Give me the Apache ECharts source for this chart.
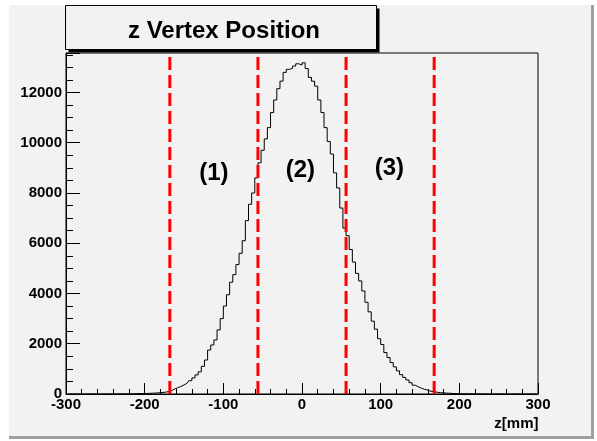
<!DOCTYPE html>
<html>
<head>
<meta charset="utf-8">
<script src="https://cdn.jsdelivr.net/npm/echarts@6/dist/echarts.min.js"></script>
<style>html,body{margin:0;padding:0;background:#fff}#c{width:597px;height:441px}</style>
</head>
<body>
<div id="c"></div>
<script>
// Histogram: z vertex position, 150 bins of 4 mm from -300 to 300
const xMin = -300;
const xMax = 300;
const binWidth = 4;
const counts = [
  0,0,0,0,0,0,0,0,0,0,
  0,0,0,0,0,1,2,3,4,6,
  8,10,12,14,17,20,25,30,38,48,
  58,72,92,130,195,250,300,360,430,530,
  640,760,880,1100,1350,1750,1950,2150,2550,3000,
  3500,3950,4450,4750,5150,5600,6100,6900,7550,8000,
  8600,9200,9700,10150,10600,11200,11700,12150,12450,12800,
  12920,12960,13050,13140,13090,13180,12950,12600,12450,12250,
  11700,11200,10600,10050,9550,8800,8200,7400,6600,6300,
  5750,5250,4800,4500,4100,3650,3270,2900,2580,2200,
  1970,1650,1450,1250,1080,920,770,660,560,450,
  350,285,230,185,150,110,90,70,55,45,
  36,28,20,16,13,10,8,7,5,4,
  3,2,1,0,0,0,0,0,0,0,
  0,0,0,0,0,0,0,0,0,0
];
const yMax = 13570;
const yMajorStep = 2000;
const yMinorStep = 500;
const xMajorStep = 100;
const cutPositions = [-168, -56, 56, 168];
const regionLabels = ['(1)', '(2)', '(3)'];
const regionX = [-112, -2, 111];
const regionY = [8770, 8900, 8980];
const titleText = 'z Vertex Position';
const xTitle = 'z[mm]';

const FONT = '"Liberation Sans", Arial, Helvetica, sans-serif';
const chart = echarts.init(document.getElementById('c'), null, {renderer: 'canvas'});

const histData = counts.map((c, i) => [xMin + binWidth * (i + 0.5), c]);

const series = [{
  type: 'line', step: 'middle', data: histData, symbol: 'none',
  lineStyle: {color: '#000', width: 1}, z: 3, animation: false
}];
cutPositions.forEach(v => {
  series.push({
    type: 'line', data: [[v, 0], [v, yMax]], symbol: 'none',
    lineStyle: {color: '#ff0000', width: 3, type: [13, 5]}, z: 4, animation: false
  });
});

const baseGraphic = [
  {type: 'rect', shape: {x: 0, y: 0, width: 9, height: 441}, style: {fill: '#fff'}, silent: true},
  {type: 'rect', shape: {x: 0, y: 0, width: 597, height: 5}, style: {fill: '#fff'}, silent: true},
  {type: 'rect', shape: {x: 594, y: 0, width: 3, height: 441}, style: {fill: '#fff'}, silent: true},
  {type: 'rect', shape: {x: 0, y: 439, width: 597, height: 2}, style: {fill: '#fff'}, silent: true},
  {type: 'rect', shape: {x: 591, y: 5, width: 3, height: 434}, style: {fill: '#a0a0a0'}, silent: true},
  {type: 'rect', shape: {x: 9, y: 436, width: 585, height: 3}, style: {fill: '#a0a0a0'}, silent: true},
  {type: 'rect', shape: {x: 68.5, y: 8.5, width: 311, height: 44}, style: {fill: '#000'}, z: 10, silent: true},
  {type: 'rect', shape: {x: 65.5, y: 5.5, width: 311, height: 44}, style: {fill: '#f2f2f2', stroke: '#000', lineWidth: 1}, z: 11, silent: true},
  {type: 'text', x: 224, y: 31, z: 12, silent: true,
    style: {text: titleText, font: 'bold 24px ' + FONT, fill: '#000', textAlign: 'center', textVerticalAlign: 'middle'}},
  {type: 'text', x: 538.5, y: 424, z: 12, silent: true,
    style: {text: xTitle, font: 'bold 15px ' + FONT, fill: '#000', textAlign: 'right', textVerticalAlign: 'middle'}}
];

chart.setOption({
  animation: false,
  backgroundColor: '#f2f2f2',
  grid: {left: 66, top: 53, width: 472, height: 341, show: true,
    borderColor: '#000', borderWidth: 1, backgroundColor: 'transparent'},
  xAxis: {
    type: 'value', min: xMin, max: xMax, interval: xMajorStep,
    axisLine: {show: true, onZero: false, lineStyle: {color: '#000', width: 1}},
    axisTick: {show: true, inside: true, length: 11, lineStyle: {color: '#000', width: 1}},
    minorTick: {show: true, splitNumber: 5, length: 5, lineStyle: {color: '#000', width: 1}},
    axisLabel: {fontSize: 15, fontWeight: 'bold', color: '#000', fontFamily: FONT, margin: 3},
    splitLine: {show: false}
  },
  yAxis: [{
    type: 'value', min: 0, max: yMax, interval: yMajorStep, position: 'left',
    axisLine: {show: true, onZero: false, lineStyle: {color: '#000', width: 1}},
    axisTick: {show: true, inside: true, length: 14, lineStyle: {color: '#000', width: 1}},
    axisLabel: {fontSize: 15, fontWeight: 'bold', color: '#000', fontFamily: FONT, margin: 4,
      formatter: v => (v % yMajorStep === 0 ? String(v) : '')},
    splitLine: {show: false}
  }, {
    type: 'value', min: 0, max: yMax, interval: yMinorStep, position: 'left', offset: 0,
    axisLine: {show: false, onZero: false},
    axisTick: {show: true, inside: true, length: 7, lineStyle: {color: '#000', width: 1}},
    axisLabel: {show: false},
    splitLine: {show: false}
  }],
  series: series,
  graphic: baseGraphic
});

// Region labels placed in data coordinates through the chart's own scales
const regionGraphic = regionLabels.map((t, i) => {
  const p = chart.convertToPixel({gridIndex: 0}, [regionX[i], regionY[i]]);
  return {type: 'text', x: p[0], y: p[1], z: 12, silent: true,
    style: {text: t, font: 'bold 24px ' + FONT, fill: '#000', textAlign: 'center', textVerticalAlign: 'middle'}};
});
chart.setOption({graphic: baseGraphic.concat(regionGraphic)});
</script>
</body>
</html>
